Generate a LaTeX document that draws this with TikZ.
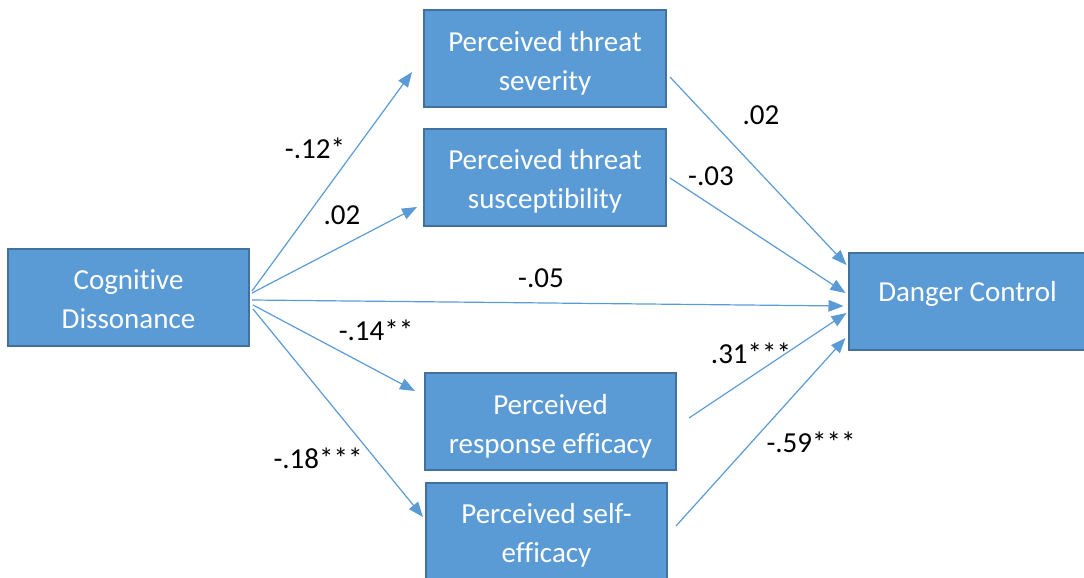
\documentclass[tikz,border=0pt]{standalone}
\usepackage{fontspec}
\setmainfont{Carlito}[RawFeature={-liga;-clig;-calt;-dlig;-rlig}]
\usetikzlibrary{arrows.meta,calc}
\definecolor{boxblue}{HTML}{5B9BD5}
\definecolor{boxedge}{HTML}{41719C}
\newcommand{\upstrut}{\rule{0pt}{14.5pt}}

\begin{document}
\begin{tikzpicture}[x=0.5pt,y=-0.5pt,>={Triangle[length=7.5pt,width=5.8pt]},
  font=\fontsize{14.5}{19.5}\selectfont,
  box/.style={draw=boxedge,fill=boxblue,line width=1pt,text=white,
    align=center,minimum height=48.5pt,inner sep=0pt},
  arr/.style={->,boxblue,line width=0.6pt},
  coef/.style={inner sep=0pt}]
  \useasboundingbox (0,0) rectangle (1084,578);
  % boxes
  \node[box,minimum width=120.5pt] (cd) at (128.5,297.5) {\rule{0pt}{12pt}Cognitive\\Dissonance};
  \node[box,minimum width=121pt] (sev) at (545,58.5) {\upstrut Perceived threat\\severity};
  \node[box,minimum width=121pt] (sus) at (545,177) {\upstrut Perceived threat\\susceptibility};
  \node[box,minimum width=125.5pt] (resp) at (550.5,421.5) {\upstrut Perceived\\response efficacy};
  \node[box,minimum width=120.5pt] (self) at (546.5,531) {\upstrut Perceived self-\\efficacy};
  \node[box,minimum width=119pt,text height=10pt,text depth=10pt] (dc) at (967.5,301.5)
    {Danger Control};
  % paths from cognitive dissonance
  \draw[arr] ($(cd.east)+(2,-6.5)$) -- ($(sev.west)+(-11,13.5)$);
  \draw[arr] ($(cd.east)+(2,-4.5)$) -- ($(sus.west)+(-6,30)$);
  \draw[arr] ($(cd.east)+(2,2.5)$) -- ($(dc.west)+(-4,4.5)$);
  \draw[arr] ($(cd.east)+(3,7.5)$) -- ($(resp.west)+(-9,-30.5)$);
  \draw[arr] ($(cd.east)+(3,11.5)$) -- ($(self.west)+(-2,-14)$);
  % paths to danger control
  \draw[arr] ($(sev.east)+(3,18.5)$) -- ($(dc.west)+(-1,-36.5)$);
  \draw[arr] ($(sus.east)+(3,1)$) -- ($(dc.west)+(-2,-8.5)$);
  \draw[arr] ($(resp.east)+(12,-3.5)$) -- ($(dc.west)+(-1,11.5)$);
  \draw[arr] ($(self.east)+(8,-5)$) -- ($(dc.west)+(-2,36.5)$);
  % coefficients
  \node[coef] (csev) at (315,148) {-.12*};
  \node[coef] (csus) at (342,215) {.02};
  \node[coef] (cdir) at (541,278) {-.05};
  \node[coef] (cresp) at (376,330) {-.14**};
  \node[coef] (cself) at (318,458) {-.18***};
  \node[coef] (csevdc) at (761,115) {.02};
  \node[coef] (csusdc) at (711,176) {-.03};
  \node[coef] (crespdc) at (751,353) {.31***};
  \node[coef] (cselfdc) at (811,442) {-.59***};
\end{tikzpicture}
\end{document}
